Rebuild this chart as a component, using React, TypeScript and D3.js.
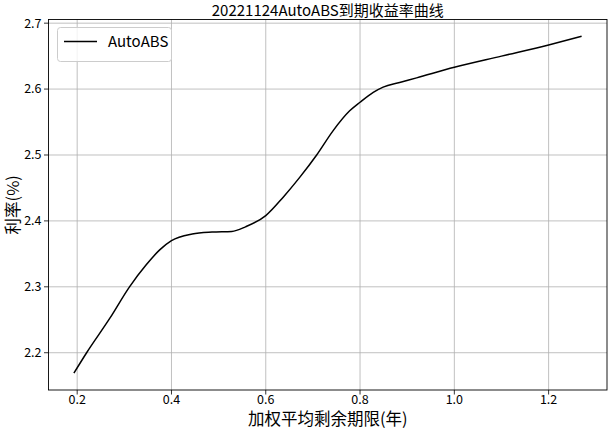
import React from 'react';
import * as d3 from 'd3';

// values
const maturity = [0.193, 0.22, 0.269, 0.311, 0.346, 0.375, 0.4, 0.444, 0.486, 0.528, 0.557, 0.6, 0.637, 0.672, 0.708, 0.743, 0.778, 0.8, 0.828, 0.849, 0.884, 0.92, 1.0, 1.1, 1.2, 1.27];
const yieldRate = [2.169, 2.2, 2.252, 2.3, 2.333, 2.356, 2.37, 2.38, 2.383, 2.384, 2.391, 2.408, 2.436, 2.466, 2.5, 2.537, 2.567, 2.58, 2.595, 2.603, 2.61, 2.617, 2.633, 2.65, 2.667, 2.68];
const xTicks = [0.2, 0.4, 0.6, 0.8, 1.0, 1.2];
const yTicks = [2.2, 2.3, 2.4, 2.5, 2.6, 2.7];
const seriesName = 'AutoABS';
const title = '20221124AutoABS到期收益率曲线';
const xLabel = '加权平均剩余期限(年)';
const yLabel = '利率(%)';

const W = 610;
const H = 430;
const font = '"Noto Sans CJK SC", "DejaVu Sans", sans-serif';

// matplotlib style 5% padding
const pad = (lo: number, hi: number) => {
  const m = (hi - lo) * 0.05;
  return [lo - m, hi + m];
};

export default function App() {
  const margin = { top: 19.5, right: 3, bottom: 40, left: 48.5 };
  const x0 = margin.left;
  const x1 = W - margin.right;
  const y0 = margin.top;
  const y1 = H - margin.bottom;

  const data = maturity.map((m, i) => ({ m, r: yieldRate[i] }));

  const xScale = d3.scaleLinear()
    .domain(pad(d3.min(maturity)!, d3.max(maturity)!))
    .range([x0, x1]);
  const yScale = d3.scaleLinear()
    .domain(pad(d3.min(yieldRate)!, d3.max(yieldRate)!))
    .range([y1, y0]);

  const line = d3.line<{ m: number; r: number }>()
    .x(d => xScale(d.m))
    .y(d => yScale(d.r))
    .curve(d3.curveMonotoneX);

  const cx = (x0 + x1) / 2;
  const cy = (y0 + y1) / 2;

  return (
    <div>
      <svg width={W} height={H} style={{ position: 'absolute', left: 0, top: 0, background: '#fff' }} fontFamily={font}>
        <rect x={0} y={0} width={W} height={H} fill="#fff" />

        {/* gridlines */}
        {xTicks.map(t => (
          <line key={'gx' + t} x1={xScale(t)} x2={xScale(t)} y1={y0} y2={y1} stroke="#b0b0b0" strokeWidth={0.8} />
        ))}
        {yTicks.map(t => (
          <line key={'gy' + t} x1={x0} x2={x1} y1={yScale(t)} y2={yScale(t)} stroke="#b0b0b0" strokeWidth={0.8} />
        ))}

        <path d={line(data) ?? ''} fill="none" stroke="#000" strokeWidth={1.5} />

        {/* spines */}
        <rect x={x0} y={y0} width={x1 - x0} height={y1 - y0} fill="none" stroke="#000" strokeWidth={0.9} />

        {/* ticks */}
        {xTicks.map(t => (
          <g key={'tx' + t}>
            <line x1={xScale(t)} x2={xScale(t)} y1={y1} y2={y1 + 4.5} stroke="#000" strokeWidth={0.8} />
            <text x={xScale(t)} y={y1 + 13.5} textAnchor="middle" fontSize={12.5} fill="#000">{t.toFixed(1)}</text>
          </g>
        ))}
        {yTicks.map(t => (
          <g key={'ty' + t}>
            <line x1={x0 - 4.5} x2={x0} y1={yScale(t)} y2={yScale(t)} stroke="#000" strokeWidth={0.8} />
            <text x={x0 - 7} y={yScale(t)} dy="0.35em" textAnchor="end" fontSize={12.5} fill="#000">{t.toFixed(1)}</text>
          </g>
        ))}

        {/* legend */}
        <rect x={57.5} y={27.5} width={114} height={34} rx={3} fill="#fff" fillOpacity={0.8} stroke="#cccccc" strokeWidth={1} />
        <line x1={64} x2={97} y1={41.5} y2={41.5} stroke="#000" strokeWidth={1.5} />
        <text x={108} y={41.5} dy="0.35em" fontSize={15} fill="#000">{seriesName}</text>

        <text x={cx} y={16} textAnchor="middle" fontSize={15} fill="#000">{title}</text>
        <text x={cx} y={H - 5} textAnchor="middle" fontSize={16.5} fill="#000">{xLabel}</text>
        <text transform={`translate(19,${cy}) rotate(-90)`} textAnchor="middle" fontSize={16.5} fill="#000">{yLabel}</text>
      </svg>
    </div>
  );
}
